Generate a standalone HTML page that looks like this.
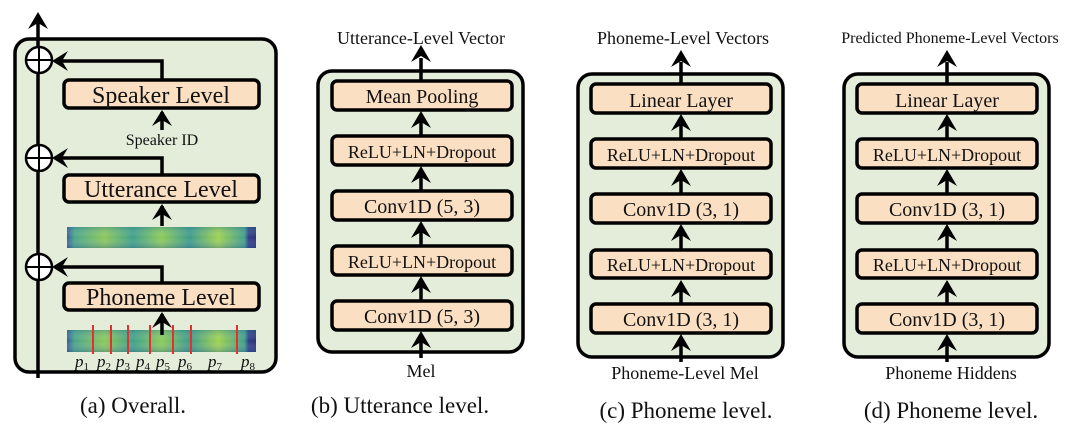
<!DOCTYPE html>
<html><head><meta charset="utf-8"><style>
html,body{margin:0;padding:0;background:#fff;}
svg{display:block;}
text{font-family:"Liberation Serif","Times New Roman",serif;}
</style></head><body>
<svg width="1080" height="431" viewBox="0 0 1080 431" xmlns="http://www.w3.org/2000/svg" font-family="Liberation Serif, serif">
<defs>
<linearGradient id="spec" x1="0" y1="0" x2="1" y2="0">
<stop offset="0" stop-color="#3a5a9a"/>
<stop offset="0.04" stop-color="#4aa58a"/>
<stop offset="0.2" stop-color="#8cc85a"/>
<stop offset="0.35" stop-color="#3fa08a"/>
<stop offset="0.5" stop-color="#8ccb5a"/>
<stop offset="0.65" stop-color="#3c9a8c"/>
<stop offset="0.8" stop-color="#9ed250"/>
<stop offset="0.94" stop-color="#3f9d8c"/>
<stop offset="0.96" stop-color="#2c3d86"/>
<stop offset="1" stop-color="#2a2f7a"/>
</linearGradient>
<linearGradient id="specv" x1="0" y1="0" x2="0" y2="1">
<stop offset="0" stop-color="#2a7a8e" stop-opacity="0.35"/>
<stop offset="0.5" stop-color="#fff" stop-opacity="0"/>
<stop offset="1" stop-color="#2a5a8e" stop-opacity="0.35"/>
</linearGradient>
</defs>
<g stroke="#000" stroke-width="3.5" fill="#e4edda">
<rect x="15" y="39" width="261" height="333" rx="14"/>
<rect x="318" y="71" width="205" height="281" rx="14"/>
<rect x="578" y="74" width="205" height="283" rx="14"/>
<rect x="844" y="74" width="205" height="283" rx="14"/>
</g>
<g stroke="#000" stroke-width="3.5" fill="#fbdfc2">
<rect x="64" y="80" width="195" height="28" rx="5"/>
<rect x="64" y="175" width="195" height="27" rx="5"/>
<rect x="64" y="283" width="195" height="27" rx="5"/>
</g>
<rect x="67" y="227" width="189" height="21" fill="url(#spec)"/>
<rect x="67" y="227" width="189" height="21" fill="url(#specv)"/>
<rect x="67" y="330" width="189" height="22" fill="url(#spec)"/>
<rect x="67" y="330" width="189" height="22" fill="url(#specv)"/>
<g stroke="#e53030" stroke-width="2">
<line x1="93" y1="325" x2="93" y2="354"/><line x1="111" y1="325" x2="111" y2="354"/>
<line x1="128" y1="325" x2="128" y2="354"/><line x1="150" y1="325" x2="150" y2="354"/>
<line x1="173" y1="325" x2="173" y2="354"/><line x1="191" y1="325" x2="191" y2="354"/>
<line x1="237" y1="325" x2="237" y2="354"/>
</g>
<g stroke="#000" stroke-width="3.5" fill="none">
<line x1="38" y1="20" x2="38" y2="378"/>
<polyline points="162,80 162,61 56,61"/>
<polyline points="162,175 162,158 56,158"/>
<polyline points="162,283 162,267 56,267"/>
<line x1="162" y1="130" x2="162" y2="112"/>
<line x1="162" y1="226" x2="162" y2="206"/>
<line x1="162" y1="335" x2="162" y2="314"/>
</g>
<g fill="#fff" stroke="#000" stroke-width="2.5">
<circle cx="39" cy="60" r="13"/><circle cx="39" cy="158" r="13"/><circle cx="39" cy="267" r="13"/>
</g>
<g stroke="#000" stroke-width="2">
<line x1="26" y1="60" x2="52" y2="60"/><line x1="26" y1="158" x2="52" y2="158"/><line x1="26" y1="267" x2="52" y2="267"/>
<line x1="39" y1="47" x2="39" y2="73"/><line x1="39" y1="145" x2="39" y2="171"/><line x1="39" y1="254" x2="39" y2="280"/>
</g>
<g fill="#000">
<path d="M38,12 l-10,17 l10,-6 l10,6z"/>
<path d="M52,61 l16,-10 l-6,10 l6,10z"/>
<path d="M52,158 l16,-10 l-6,10 l6,10z"/>
<path d="M52,267 l16,-10 l-6,10 l6,10z"/>
<path d="M162,110 l-10,16 l10,-6 l10,6z"/>
<path d="M162,204 l-10,16 l10,-6 l10,6z"/>
<path d="M162,312 l-10,16 l10,-6 l10,6z"/>
</g>
<g text-anchor="middle" fill="#111">
<text x="161" y="103" font-size="24">Speaker Level</text>
<text x="161" y="197" font-size="24">Utterance Level</text>
<text x="161" y="305" font-size="24">Phoneme Level</text>
<text x="162" y="145" font-size="16">Speaker ID</text>
</g>
<g font-size="17" font-style="italic" fill="#111">
<text x="75" y="367">p<tspan font-size="11" font-style="normal" dy="3">1</tspan></text>
<text x="97" y="367">p<tspan font-size="11" font-style="normal" dy="3">2</tspan></text>
<text x="116" y="367">p<tspan font-size="11" font-style="normal" dy="3">3</tspan></text>
<text x="136" y="367">p<tspan font-size="11" font-style="normal" dy="3">4</tspan></text>
<text x="156" y="367">p<tspan font-size="11" font-style="normal" dy="3">5</tspan></text>
<text x="178" y="367">p<tspan font-size="11" font-style="normal" dy="3">6</tspan></text>
<text x="208" y="367">p<tspan font-size="11" font-style="normal" dy="3">7</tspan></text>
<text x="241" y="367">p<tspan font-size="11" font-style="normal" dy="3">8</tspan></text>
</g>

<g stroke="#000" stroke-width="3.5" fill="#fbdfc2">
<rect x="332" y="81" width="180" height="29" rx="5"/>
<rect x="332" y="136" width="180" height="29" rx="5"/>
<rect x="332" y="191" width="180" height="29" rx="5"/>
<rect x="332" y="246" width="180" height="29" rx="5"/>
<rect x="332" y="301" width="180" height="29" rx="5"/>
<rect x="591" y="84" width="180" height="29" rx="5"/>
<rect x="591" y="139" width="180" height="29" rx="5"/>
<rect x="591" y="194" width="180" height="29" rx="5"/>
<rect x="591" y="250" width="180" height="28" rx="5"/>
<rect x="591" y="304" width="180" height="29" rx="5"/>
<rect x="857" y="84" width="180" height="29" rx="5"/>
<rect x="857" y="139" width="180" height="29" rx="5"/>
<rect x="857" y="194" width="180" height="29" rx="5"/>
<rect x="857" y="250" width="180" height="28" rx="5"/>
<rect x="857" y="304" width="180" height="29" rx="5"/>
</g>
<g stroke="#000" stroke-width="3.5">
<line x1="421" y1="58" x2="421" y2="81"/><line x1="421" y1="116" x2="421" y2="136"/><line x1="421" y1="170" x2="421" y2="191"/><line x1="421" y1="225" x2="421" y2="246"/><line x1="421" y1="280" x2="421" y2="301"/><line x1="421" y1="335" x2="421" y2="358"/>
<line x1="681" y1="62" x2="681" y2="84"/><line x1="681" y1="118" x2="681" y2="139"/><line x1="681" y1="173" x2="681" y2="194"/><line x1="681" y1="228" x2="681" y2="250"/><line x1="681" y1="283" x2="681" y2="304"/><line x1="681" y1="338" x2="681" y2="362"/>
<line x1="947" y1="62" x2="947" y2="84"/><line x1="947" y1="118" x2="947" y2="139"/><line x1="947" y1="173" x2="947" y2="194"/><line x1="947" y1="228" x2="947" y2="250"/><line x1="947" y1="283" x2="947" y2="304"/><line x1="947" y1="338" x2="947" y2="362"/>
</g>
<g fill="#000">
<path d="M421,45 l-10,17 l10,-6 l10,6z"/><path d="M421,111 l-10,17 l10,-6 l10,6z"/><path d="M421,166 l-10,17 l10,-6 l10,6z"/><path d="M421,221 l-10,17 l10,-6 l10,6z"/><path d="M421,276 l-10,17 l10,-6 l10,6z"/><path d="M421,331 l-10,17 l10,-6 l10,6z"/>
<path d="M681,50 l-10,17 l10,-6 l10,6z"/><path d="M681,114 l-10,17 l10,-6 l10,6z"/><path d="M681,169 l-10,17 l10,-6 l10,6z"/><path d="M681,224 l-10,17 l10,-6 l10,6z"/><path d="M681,280 l-10,17 l10,-6 l10,6z"/><path d="M681,334 l-10,17 l10,-6 l10,6z"/>
<path d="M947,50 l-10,17 l10,-6 l10,6z"/><path d="M947,114 l-10,17 l10,-6 l10,6z"/><path d="M947,169 l-10,17 l10,-6 l10,6z"/><path d="M947,224 l-10,17 l10,-6 l10,6z"/><path d="M947,280 l-10,17 l10,-6 l10,6z"/><path d="M947,334 l-10,17 l10,-6 l10,6z"/>
</g>
<g text-anchor="middle" fill="#111">
<text x="422" y="103" font-size="20">Mean Pooling</text>
<text x="422" y="158" font-size="18">ReLU+LN+Dropout</text>
<text x="422" y="213" font-size="20">Conv1D (5, 3)</text>
<text x="422" y="268" font-size="18">ReLU+LN+Dropout</text>
<text x="422" y="323" font-size="20">Conv1D (5, 3)</text>
<text x="421" y="44" font-size="18">Utterance-Level Vector</text>
<text x="421" y="377" font-size="18">Mel</text>

<text x="681" y="107" font-size="20">Linear Layer</text>
<text x="681" y="161" font-size="18">ReLU+LN+Dropout</text>
<text x="681" y="216" font-size="20">Conv1D (3, 1)</text>
<text x="681" y="271" font-size="18">ReLU+LN+Dropout</text>
<text x="681" y="326" font-size="20">Conv1D (3, 1)</text>
<text x="683" y="44" font-size="18">Phoneme-Level Vectors</text>
<text x="685" y="379" font-size="18">Phoneme-Level Mel</text>

<text x="947" y="107" font-size="20">Linear Layer</text>
<text x="947" y="161" font-size="18">ReLU+LN+Dropout</text>
<text x="947" y="216" font-size="20">Conv1D (3, 1)</text>
<text x="947" y="271" font-size="18">ReLU+LN+Dropout</text>
<text x="947" y="326" font-size="20">Conv1D (3, 1)</text>
<text x="950" y="43" font-size="16">Predicted Phoneme-Level Vectors</text>
<text x="951" y="379" font-size="18">Phoneme Hiddens</text>

<text x="133" y="413" font-size="23">(a) Overall.</text>
<text x="400" y="413" font-size="23">(b) Utterance level.</text>
<text x="686" y="418" font-size="23">(c) Phoneme level.</text>
<text x="951" y="418" font-size="23">(d) Phoneme level.</text>
</g>
</svg>
</body></html>
